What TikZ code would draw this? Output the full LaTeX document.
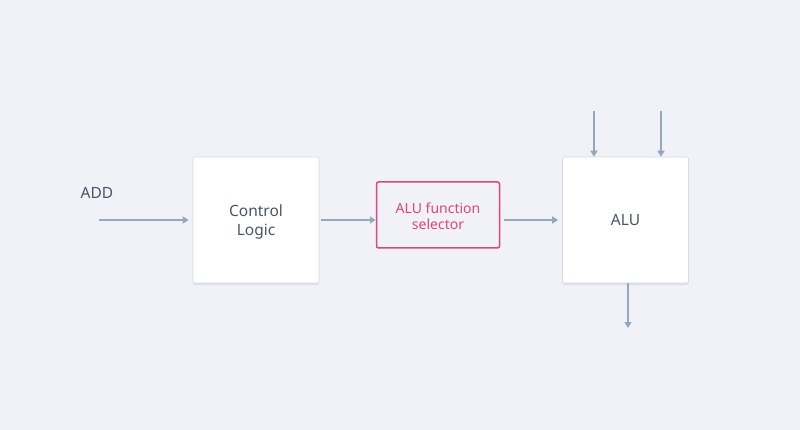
\documentclass[tikz,border=0pt]{standalone}
\usepackage{fontspec}
\setmainfont{Noto Sans}
\usetikzlibrary{arrows.meta,shadows}
\definecolor{bg}{HTML}{F0F2F7}
\definecolor{arr}{HTML}{94A9BA}
\definecolor{txt}{HTML}{4A5568}
\definecolor{pink}{HTML}{E0457B}
\definecolor{edge}{HTML}{D5DAE2}
\newcommand{\twoline}[3]{\raisebox{#1}[\height][\depth]{\begin{tabular}{@{}c@{}}#2\\#3\end{tabular}}}
\tikzset{
  block/.style={draw=edge, line width=0.6pt, fill=white, rounded corners=2pt,
    minimum width=126pt, minimum height=126pt, inner sep=0pt, align=center,
    text=txt, font=\fontsize{15.5}{19}\selectfont,
    drop shadow={shadow xshift=0pt, shadow yshift=-2pt, opacity=0.12, fill=black!60}},
  selbox/.style={draw=pink, line width=1.5pt, fill=bg, rounded corners=2pt,
    minimum width=123pt, minimum height=66pt, inner sep=0pt, align=center,
    text=pink, font=\fontsize{14}{16}\selectfont},
  conn/.style={draw=arr, line width=1.5pt, -{Triangle[length=6pt,width=7pt]}},
  lbl/.style={text=txt, font=\fontsize{15.5}{18}\selectfont}
}
\begin{document}
\begin{tikzpicture}[x=1pt,y=-1pt]
\fill[bg] (0,0) rectangle (800,430);
\useasboundingbox (0,0) rectangle (800,430);
\node[block] (ctrl) at (256,220) {\twoline{-2.5pt}{Control}{Logic}};
\node[selbox] (sel) at (438,215) {\twoline{-3pt}{ALU function}{selector}};
\node[block] (alu) at (625.5,220) {ALU};
\node[lbl] (add) at (97,193) {ADD};
\coordinate (addin) at (99,220);
\coordinate (ina) at (594,111);
\coordinate (inb) at (661,111);
\coordinate (out) at (628,328);
\draw[conn, shorten >=4pt] (addin) -- (addin -| ctrl.west);
\draw[conn, shorten <=2pt] (addin -| ctrl.east) -- (addin -| sel.west);
\draw[conn, shorten <=4pt, shorten >=4pt] (addin -| sel.east) -- (addin -| alu.west);
\draw[conn] (ina) -- (ina |- alu.north);
\draw[conn] (inb) -- (inb |- alu.north);
\draw[conn] (out |- alu.south) -- (out);
\end{tikzpicture}
\end{document}
